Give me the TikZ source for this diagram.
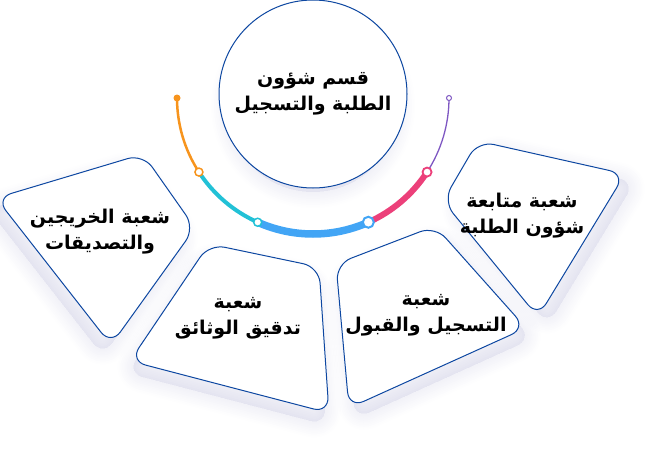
\documentclass[tikz,border=0pt]{standalone}
\usepackage{fontspec}
\newfontfamily\arabicfont[Script=Arabic]{DejaVu Sans}
\TeXXeTstate=1
\definecolor{deepblue}{HTML}{0D47A1}
\definecolor{hazegray}{RGB}{100,100,170}
\definecolor{tangerine}{HTML}{F7941D}
\definecolor{aqua}{HTML}{22C1D6}
\definecolor{sky}{HTML}{42A5F5}
\definecolor{rose}{HTML}{EC407A}
\definecolor{grape}{HTML}{7E57C2}
\begin{document}
\begin{tikzpicture}[x=1pt, y=-1pt,
    card/.style={draw=deepblue, line width=1pt, fill=white, rounded corners=16pt},
    haze/.style={draw=hazegray, fill=hazegray, opacity=0.009, rounded corners=16pt},
    cardtext/.style={align=center, font=\arabicfont\bfseries\fontsize{19}{26}\selectfont},
    hub/.style={circle, draw=deepblue, line width=1pt, fill=white, minimum size=188pt, inner sep=0pt, cardtext}]
    \useasboundingbox (0,0) rectangle (650,450);

    \path (313,98) coordinate (o);

    \path (-4,198) coordinate (a1);
    \path (143,154) coordinate (a2);
    \path (195,228) coordinate (a3);
    \path (111,345) coordinate (a4);

    \path (209,244) coordinate (b1);
    \path (319,267) coordinate (b2);
    \path (329,413) coordinate (b3);
    \path (130,361) coordinate (b4);

    \path (336,264) coordinate (c1);
    \path (435,226) coordinate (c2);
    \path (526,328) coordinate (c3);
    \path (349,408) coordinate (c4);

    \path (443,201) coordinate (d1);
    \path (478,141) coordinate (d2);
    \path (625,174) coordinate (d3);
    \path (538,317) coordinate (d4);

    \foreach \pa/\pb/\pc/\pd/\dx/\dy in {a1/a2/a3/a4/-8/11, b1/b2/b3/b4/-3/12, c1/c2/c3/c4/6/11, d1/d2/d3/d4/10/8}
        \foreach \w in {2,5,...,32}
            \draw[haze, line width=\w pt] ([shift={(\dx,\dy)}]\pa) -- ([shift={(\dx,\dy)}]\pb) -- ([shift={(\dx,\dy)}]\pc) -- ([shift={(\dx,\dy)}]\pd) -- cycle;
    \foreach \w in {2,5,...,32}
        \draw[haze, line width=\w pt] (313,106) circle (86);

    \draw[card] (a1) -- (a2) -- (a3) -- (a4) -- cycle;
    \draw[card] (b1) -- (b2) -- (b3) -- (b4) -- cycle;
    \draw[card] (c1) -- (c2) -- (c3) -- (c4) -- cycle;
    \draw[card] (d1) -- (d2) -- (d3) -- (d4) -- cycle;

    \node[hub] (hub) at (313,94) {\beginR قسم شؤون\endR\\\beginR الطلبة والتسجيل\endR};

    \path (o) ++(180:136) coordinate (s0);
    \path (o) ++(147:136) coordinate (s1);
    \path (o) ++(114:136) coordinate (s2);
    \path (o) ++(66:136) coordinate (s3);
    \path (o) ++(33:136) coordinate (s4);
    \path (o) ++(0:136) coordinate (s5);

    \draw[tangerine, line width=2.5pt] (s0) arc[start angle=180, end angle=147, radius=136];
    \draw[aqua, line width=4pt] (s1) arc[start angle=147, end angle=114, radius=136];
    \draw[sky, line width=7.5pt] (s2) arc[start angle=114, end angle=66, radius=136];
    \draw[rose, line width=6pt] (s3) arc[start angle=66, end angle=33, radius=136];
    \draw[grape, line width=1.3pt] (s4) arc[start angle=33, end angle=0, radius=136];

    \fill[tangerine] (s0) circle (3.5);
    \draw[tangerine, line width=1.5pt, fill=white] (s1) circle (4);
    \draw[aqua, line width=1.5pt, fill=white] (s2) circle (4);
    \draw[sky, line width=2pt, fill=white] (s3) circle (5.5);
    \draw[rose, line width=1.8pt, fill=white] (s4) circle (4.5);
    \draw[grape, line width=1pt, fill=white] (s5) circle (2.5);

    \node[cardtext] (grad) at (100,232) {\beginR شعبة الخريجين\endR\\\beginR والتصديقات\endR};
    \node[cardtext] (docs) at (238,318) {\beginR شعبة\endR\\\beginR تدقيق الوثائق\endR};
    \node[cardtext] (reg) at (426,315) {\beginR شعبة\endR\\\beginR التسجيل والقبول\endR};
    \node[cardtext] (follow) at (522,216) {\beginR شعبة متابعة\endR\\\beginR شؤون الطلبة\endR};
\end{tikzpicture}
\end{document}
